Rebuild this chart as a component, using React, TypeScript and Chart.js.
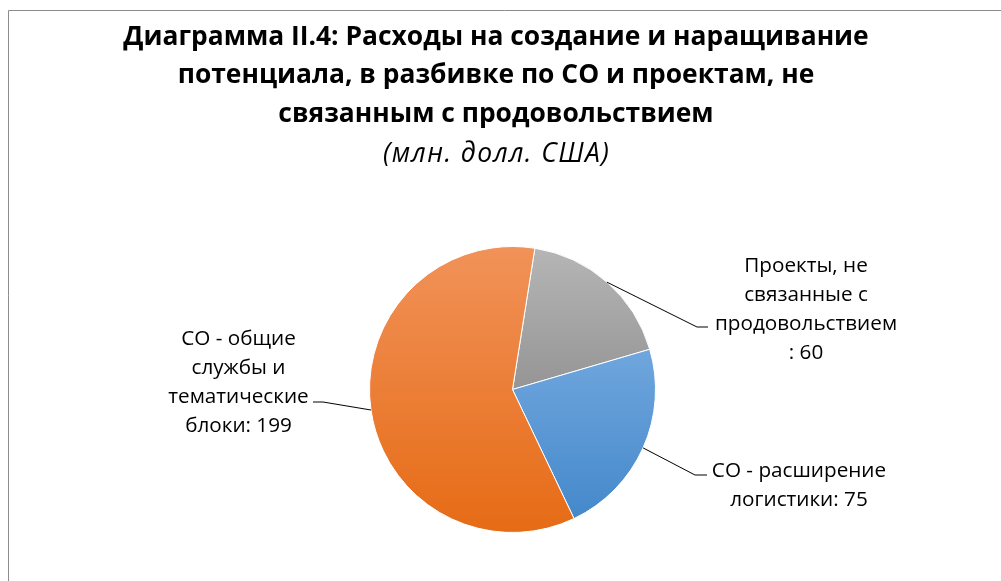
import React, { useEffect, useRef } from "react";
import { Chart, registerables } from "chart.js";
Chart.register(...registerables);

const categories = [
  "Проекты, не связанные с продовольствием",
  "СО - расширение логистики",
  "СО - общие службы и тематические блоки",
];
const values = [60, 75, 199];
const labelWraps = [
  ["Проекты, не", "связанные с", "продовольствием", ": {v}"],
  ["СО - расширение", "логистики: {v}"],
  ["СО - общие", "службы и", "тематические", "блоки: {v}"],
];
const titleLines = [
  "Диаграмма II.4: Расходы на создание и наращивание",
  "потенциала, в разбивке по СО и проектам, не",
  "связанным с продовольствием",
];
const subtitle = "(млн. долл. США)";

const FONT = "'Open Sans', 'Noto Sans', sans-serif";

const gradStops = [
  ["#B6B6B6", "#747474"],
  ["#8AB8E9", "#4186C9"],
  ["#F19259", "#E66B15"],
];

const labelLayout = [
  { elbow: [697, 327], end: [708, 327], cx: 806, base: 271.5 },
  { elbow: [695, 475], end: [707, 475], cx: 799, base: 477 },
  { elbow: [323, 402], end: [313, 402], cx: 238.5, base: 345 },
];

export default function App() {
  const ref = useRef<HTMLCanvasElement>(null);
  useEffect(() => {
    const canvas = ref.current!;
    const border = {
      id: "border",
      beforeDraw(chart: any) {
        const c = chart.ctx;
        c.save();
        c.strokeStyle = "#8C8C8C";
        c.lineWidth = 1;
        c.beginPath();
        c.moveTo(8.5, chart.height);
        c.lineTo(8.5, 10.5);
        c.lineTo(chart.width, 10.5);
        c.stroke();
        c.restore();
      },
    };
    const titlePlugin = {
      id: "customTitle",
      afterDraw(chart: any) {
        const c = chart.ctx;
        c.save();
        c.fillStyle = "#000";
        c.textAlign = "center";
        c.textBaseline = "alphabetic";
        c.font = `bold 26.4px ${FONT}`;
        titleLines.forEach((t, i) => c.fillText(t, 496, 44.7 + i * 38.6));
        c.font = `italic 26.5px ${FONT}`;
        try {
          (c as any).letterSpacing = "1.4px";
        } catch (e) {}
        c.fillText(subtitle, 496.5, 161.5);
        c.restore();
      },
    };
    const labels = {
      id: "pieLabels",
      afterDatasetsDraw(chart: any) {
        const c = chart.ctx;
        const meta = chart.getDatasetMeta(0);
        c.save();
        meta.data.forEach((arc: any, i: number) => {
          const p = arc.getProps(["x", "y", "startAngle", "endAngle", "outerRadius"], true);
          const mid = (p.startAngle + p.endAngle) / 2;
          const sx = p.x + Math.cos(mid) * p.outerRadius;
          const sy = p.y + Math.sin(mid) * p.outerRadius;
          const L = labelLayout[i];
          c.strokeStyle = "#000";
          c.lineWidth = 1;
          c.beginPath();
          c.moveTo(sx, sy);
          c.lineTo(L.elbow[0], L.elbow[1]);
          c.lineTo(L.end[0], L.end[1]);
          c.stroke();
          c.fillStyle = "#000";
          c.font = `20.7px ${FONT}`;
          c.textAlign = "center";
          c.textBaseline = "alphabetic";
          labelWraps[i].forEach((ln, j) => {
            c.fillText(ln.replace("{v}", String(values[i])), L.cx, L.base + j * 29);
          });
        });
        c.restore();
      },
    };
    const chart = new Chart(canvas, {
      type: "pie",
      data: {
        labels: categories,
        datasets: [
          {
            data: values,
            borderColor: "#FFFFFF",
            borderWidth: 1,
            backgroundColor: (ctx: any) => {
              const ch = ctx.chart;
              const ca = ch.chartArea;
              const s = gradStops[ctx.dataIndex % gradStops.length];
              if (!ca) return s[0];
              const g = ch.ctx.createLinearGradient(0, ca.top, 0, ca.bottom);
              g.addColorStop(0, s[0]);
              g.addColorStop(1, s[1]);
              return g;
            },
          },
        ],
      },
      options: {
        animation: false,
        responsive: false,
        rotation: 9,
        layout: { padding: { top: 246, bottom: 48, left: 369, right: 345 } },
        plugins: { legend: { display: false }, title: { display: false }, tooltip: { enabled: false } },
      },
      plugins: [border, titlePlugin, labels],
    });
    return () => chart.destroy();
  }, []);
  return (
    <div style={{ position: "absolute", left: 0, top: 0, width: 1001, height: 581 }}>
      <canvas ref={ref} width={1001} height={581} style={{ display: "block" }} />
    </div>
  );
}
